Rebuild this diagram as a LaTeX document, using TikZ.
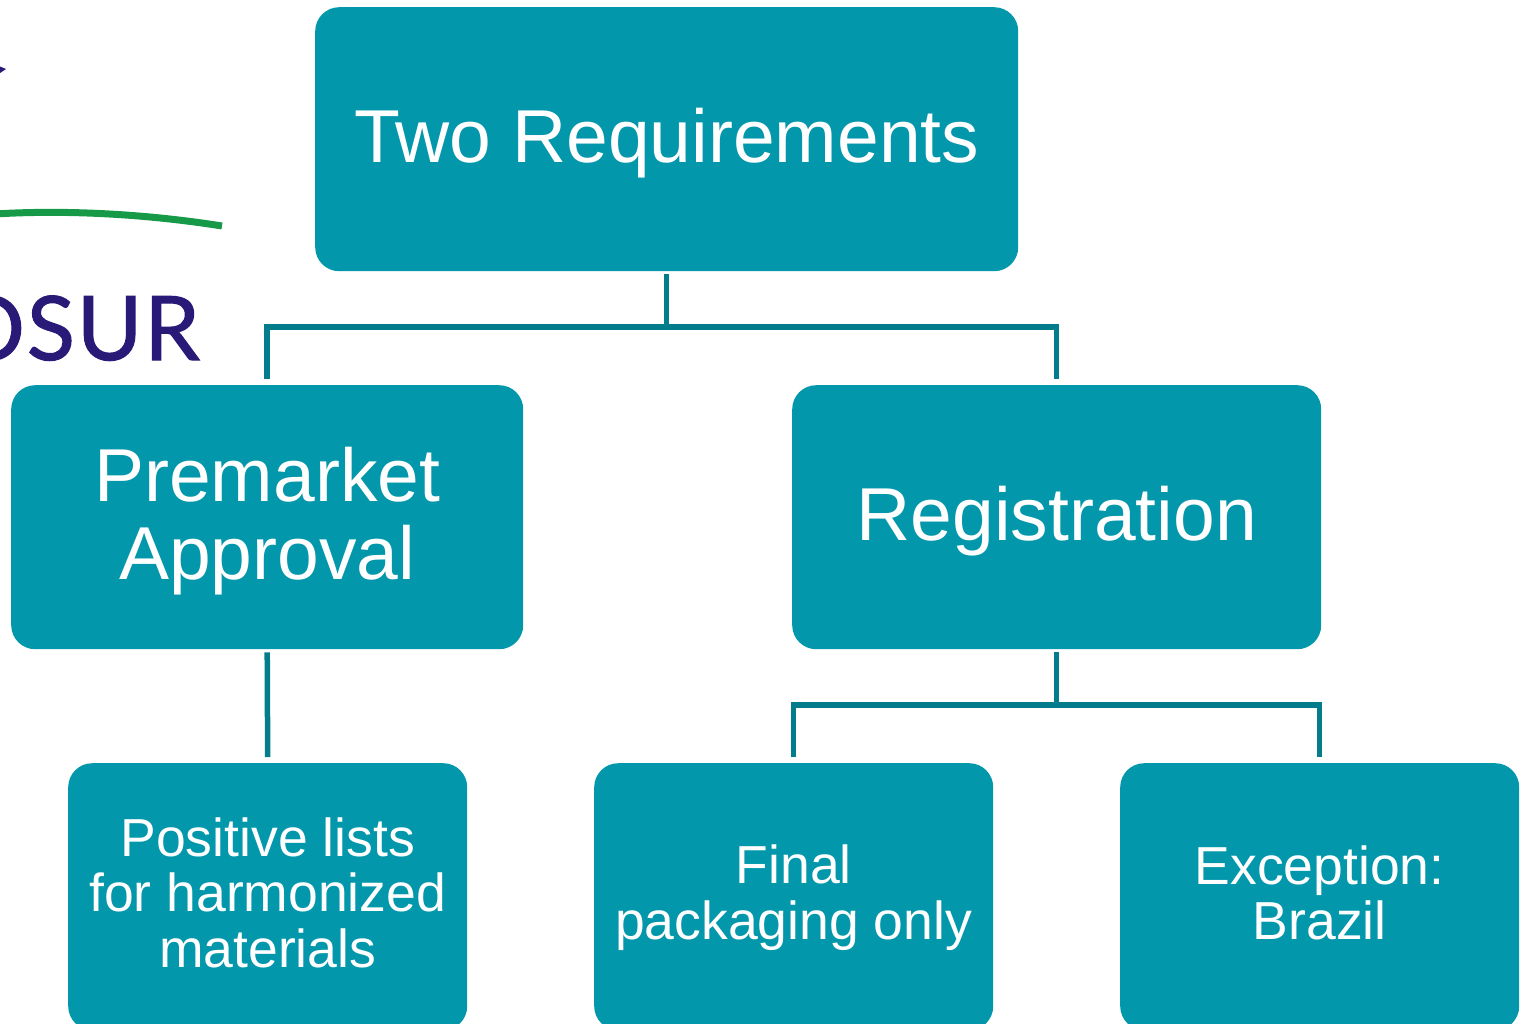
\documentclass[tikz,border=0pt]{standalone}
\usepackage{fontspec}
\setmainfont{Liberation Sans}
\newfontfamily\logofont{Lato}[FakeBold=1.2,LetterSpace=2]
\usetikzlibrary{calc}
\definecolor{boxteal}{HTML}{0297AA}
\definecolor{lineteal}{HTML}{037D8C}
\definecolor{logoblue}{HTML}{2A1A78}
\definecolor{logogreen}{HTML}{179A48}
\tikzset{
  x=1pt,y=-1pt,
  boxshape/.style={draw=none,fill=boxteal,rounded corners=24pt,inner sep=0pt,anchor=north west},
  boxtext/.style={text=white,inner sep=0pt,align=center,anchor=center},
  bigtext/.style={boxtext,font=\fontsize{75}{78}\selectfont},
  smalltext/.style={boxtext,font=\fontsize{53.5}{55.5}\selectfont},
  conn/.style={draw=lineteal,line width=5.5pt,line join=miter},
}
\begin{document}
\begin{tikzpicture}
\useasboundingbox (0,0) rectangle (1522,1023);
\clip (0,0) rectangle (1522,1023);
% logo fragments
\fill[logoblue] (0,66.5) -- (6,69) -- (0,73) -- cycle;
\draw[logogreen,line width=7pt] (-5,214) .. controls (60,210) and (140,213) .. (222,226);
\node[anchor=base east,text=logoblue,inner sep=0pt,font=\logofont\fontsize{89}{89}\selectfont] (logo) at (200,360) {OSUR};
% boxes
\node[boxshape,minimum width=703pt,minimum height=264pt] (top) at (315,7) {};
\node[boxshape,minimum width=512pt,minimum height=264pt] (prem) at (11,385) {};
\node[boxshape,minimum width=529pt,minimum height=264pt] (reg) at (792,385) {};
\node[boxshape,minimum width=399pt,minimum height=267pt] (pos) at (68,763) {};
\node[boxshape,minimum width=399pt,minimum height=267pt] (fin) at (594,763) {};
\node[boxshape,minimum width=399pt,minimum height=267pt] (exc) at (1120,763) {};
% texts
\node[bigtext] (toptext) at ($(top.center)+(0,4)$) {Two Requirements};
\node[bigtext] (premtext) at ($(prem.center)+(0,4)$) {Premarket\\Approval};
\node[bigtext] (regtext) at ($(reg.center)+(0,4)$) {Registration};
\node[smalltext] (postext) at ($(pos.center)+(0,-4)$) {Positive lists\\for harmonized\\materials};
\node[smalltext] (fintext) at ($(fin.center)+(0,1)$) {Final\\packaging only};
\node[smalltext] (exctext) at ($(exc.center)+(0,-4)$) {Exception:\\Brazil};
% connectors
\coordinate (bustop) at (666,327);
\coordinate (busreg) at (1056,705);
\draw[conn,shorten <=3pt] (top.south) -- (top.south |- bustop);
\draw[conn,shorten <=6pt,shorten >=6pt] (prem.north) |- (bustop) -| (reg.north);
\draw[conn,shorten <=3pt,shorten >=6pt] (prem.south) -- (pos.north);
\draw[conn,shorten <=3pt] (reg.south) -- (reg.south |- busreg);
\draw[conn,shorten <=6pt,shorten >=6pt] (fin.north) |- (busreg) -| (exc.north);
\end{tikzpicture}
\end{document}
